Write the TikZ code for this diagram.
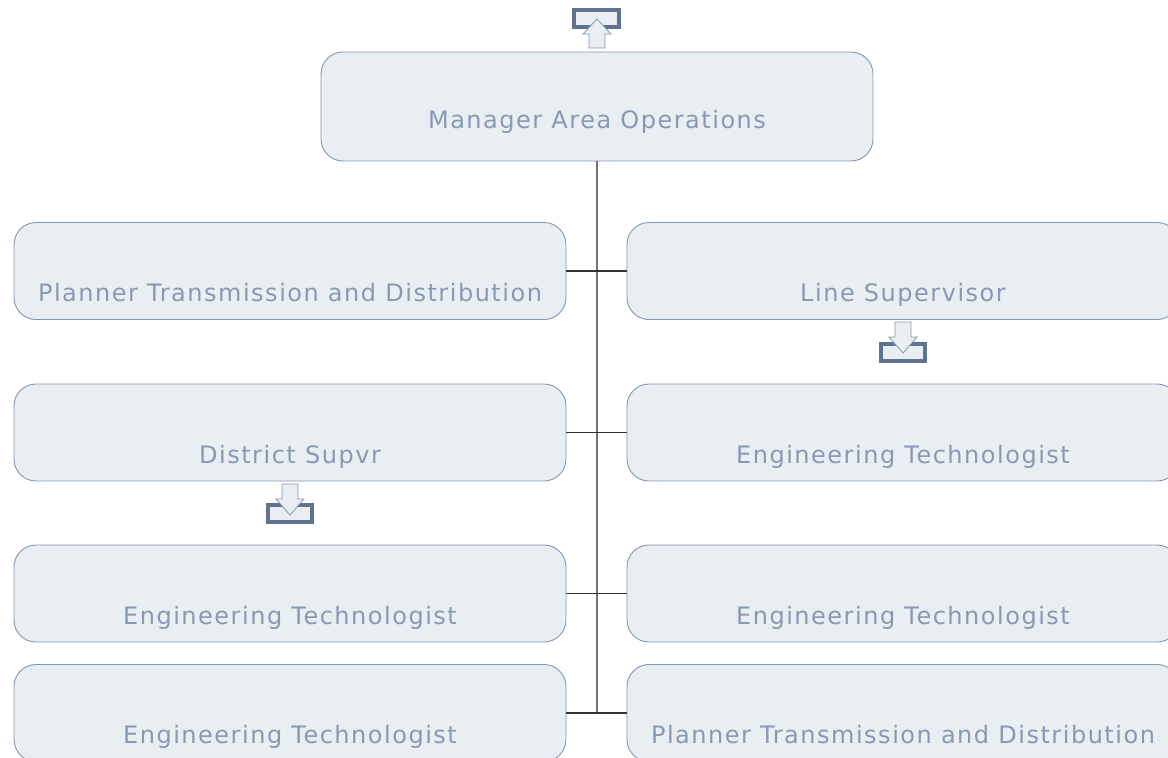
\documentclass[tikz,border=0pt]{standalone}
\usepackage{fontspec}
\newfontfamily\boxfont{DejaVu Sans}[LetterSpace=6.3]
\usepackage{tikz}
\definecolor{boxfill}{HTML}{E9EEF2}
\definecolor{boxline}{HTML}{8497B0}
\definecolor{boxtext}{HTML}{8899B2}
\definecolor{iconc}{HTML}{5F7391}

\begin{document}
\begin{tikzpicture}[x=1pt, y=-1pt,
  block/.style={draw=boxline, fill=boxfill, line width=0.9pt, rounded corners=22pt,
    minimum width=552pt, minimum height=97pt, text=boxtext,
    font=\boxfont\fontsize{24}{28}\selectfont, text height=61pt, text depth=0pt},
  topblock/.style={block, minimum height=109pt, text height=43pt},
  link/.style={draw=black!80, line width=1.2pt},
  trunk/.style={draw=black!55, line width=1.4pt},
  iconbox/.style={draw=iconc, line width=4pt, fill=boxfill},
  iconarrow/.style={draw=boxline, fill=boxfill, line width=0.8pt, line join=miter}
]
  \useasboundingbox (0,0) rectangle (1168,758);
  \clip (0,0) rectangle (1168,758);

  % Blocks
  \node[topblock] (mgr) at (597,106.5) {Manager Area Operations};
  \node[block] (plannerA) at (290,271) {Planner Transmission and Distribution};
  \node[block] (linesup) at (903,271) {Line Supervisor};
  \node[block] (district) at (290,432.5) {District Supvr};
  \node[block] (techA) at (903,432.5) {Engineering Technologist};
  \node[block] (techB) at (290,593.5) {Engineering Technologist};
  \node[block] (techC) at (903,593.5) {Engineering Technologist};
  \node[block] (techD) at (290,713) {Engineering Technologist};
  \node[block] (plannerB) at (903,713) {Planner Transmission and Distribution};

  % Connectors
  \coordinate (trunkend) at (597,712);
  \draw[trunk] (mgr.south) -- (trunkend);
  \draw[link] (plannerA.east) -- (linesup.west);
  \draw[link] (district.east) -- (techA.west);
  \draw[link] (techB.east) -- (techC.west);
  \draw[link] (techD.east) -- (plannerB.west);

  % Icons
  \draw[iconbox] (574,10) rectangle (619,27);
  \draw[iconarrow] (589,48) -- (589,34) -- (583,34) -- (597,19) -- (611,34)
    -- (605,34) -- (605,48) -- cycle;
  \draw[iconbox] (881,344) rectangle (925,361);
  \draw[iconarrow] (895,322) -- (895,337) -- (889,337) -- (903,353) -- (917,337)
    -- (911,337) -- (911,322) -- cycle;
  \draw[iconbox] (268,505) rectangle (312,522);
  \draw[iconarrow] (282,484) -- (282,499) -- (276,499) -- (290,515) -- (304,499)
    -- (298,499) -- (298,484) -- cycle;
\end{tikzpicture}
\end{document}
